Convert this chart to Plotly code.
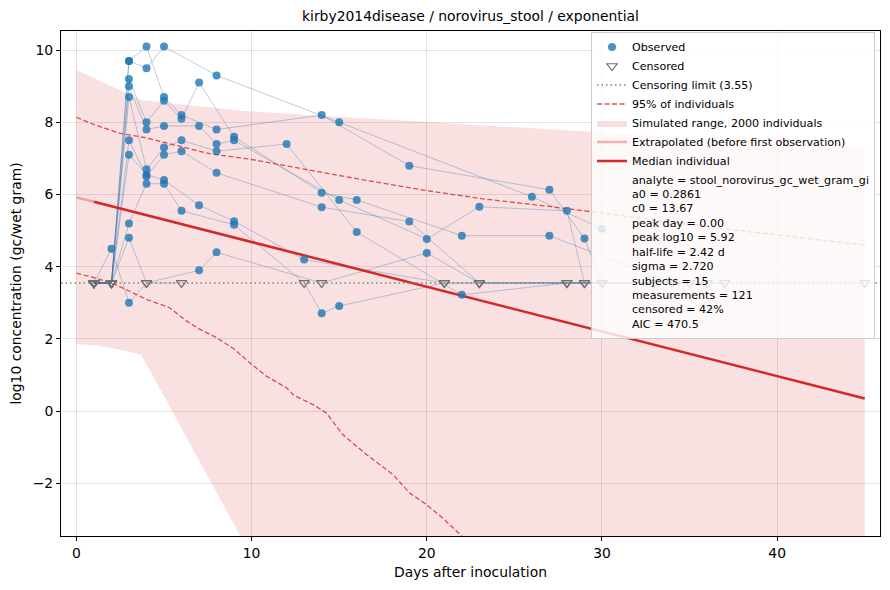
import plotly.graph_objects as go

# ---------------- data ----------------
censor_limit = 3.55
C = censor_limit  # value used for censored measurements

# one row per subject: days, log10 values, censored flags
meas_subject = (
    [1]*12 + [2]*10 + [3]*13 + [4]*14 + [5]*12 + [6]*12 + [7]*10 + [8]*13 +
    [9]*10 + [10]*5 + [11]*2 + [12]*2 + [13]*2 + [14]*2 + [15]*2
)
meas_day = [
    1, 2, 3, 4, 5, 6, 8, 14, 19, 27, 29, 30,
    1, 2, 3, 4, 5, 8, 15, 26, 30, 33,
    1, 2, 3, 4, 5, 6, 7, 9, 14, 16, 22, 27, 34,
    1, 2, 3, 4, 5, 7, 8, 9, 15, 20, 23, 28, 29, 35,
    1, 2, 3, 4, 5, 6, 8, 12, 16, 22, 28, 36,
    1, 2, 3, 4, 5, 6, 8, 14, 19, 23, 28, 37,
    1, 2, 3, 4, 5, 7, 9, 13, 21, 29,
    1, 2, 3, 4, 5, 6, 9, 13, 14, 15, 21, 23, 45,
    1, 2, 3, 4, 7, 8, 14, 20, 23, 30,
    1, 2, 3, 4, 6,
    1, 2,
    1, 2,
    1, 2,
    1, 2,
    1, 2,
]
meas_log10 = [
    C, C, 9.70, 10.10, 8.70, 8.20, 7.80, 8.20, 6.80, 6.13, 4.78, C,
    C, C, 9.70, 9.50, 10.10, 9.30, 8.00, 5.94, 5.05, C,
    C, C, 9.20, 8.00, 8.60, 8.10, 9.10, 7.60, 6.05, 5.85, 4.86, 4.86, C,
    C, C, 9.00, 7.80, 7.90, 7.90, 7.40, 7.50, 5.85, 4.77, 5.66, 5.55, C, C,
    C, C, 8.70, 6.70, 7.30, 7.50, 7.20, 7.40, 4.96, 3.22, C, C,
    C, C, 7.50, 6.50, 7.10, 7.20, 6.60, 5.65, 5.25, C, C, C,
    C, C, 7.10, 6.55, 6.40, 5.70, 5.26, 4.20, C, C,
    C, C, 5.20, 6.30, 6.30, 5.55, 5.16, C, 2.71, 2.91, C, C, C,
    C, C, 4.80, C, 3.90, 4.40, C, 4.38, C, C,
    C, 4.50, 3.00, C, C,
    C, C,
    C, C,
    C, C,
    C, C,
    C, C,
]
meas_censored = [
    1, 1, 0, 0, 0, 0, 0, 0, 0, 0, 0, 1,
    1, 1, 0, 0, 0, 0, 0, 0, 0, 1,
    1, 1, 0, 0, 0, 0, 0, 0, 0, 0, 0, 0, 1,
    1, 1, 0, 0, 0, 0, 0, 0, 0, 0, 0, 0, 1, 1,
    1, 1, 0, 0, 0, 0, 0, 0, 0, 0, 1, 1,
    1, 1, 0, 0, 0, 0, 0, 0, 0, 1, 1, 1,
    1, 1, 0, 0, 0, 0, 0, 0, 1, 1,
    1, 1, 0, 0, 0, 0, 0, 1, 0, 0, 1, 1, 1,
    1, 1, 0, 1, 0, 0, 1, 0, 1, 1,
    1, 0, 0, 1, 1,
    1, 1,
    1, 1,
    1, 1,
    1, 1,
    1, 1,
]

# simulated range (2000 individuals): envelope
band_days = [0, 1.1, 2.5, 3.7, 9.4, 10.0, 12.75, 20.0, 29.9, 37.0, 45.0]
band_upper = [9.45, 9.20, 8.90, 8.62, 8.32, 8.30, 8.22, 8.01, 7.72, 7.52, 7.30]
band_lower = [1.85, 1.82, 1.70, 1.56, -3.50, -4.10, -6.80, -14.0, -24.0, -31.0, -39.0]

# 95% of individuals
q_hi_days = [0, 1.1, 2.46, 3.98, 5.7, 7.6, 9.89, 13.3, 16.55, 19.98, 23.2, 27.0, 29.9, 37.0, 45.0]
q_hi_vals = [8.14, 7.92, 7.70, 7.57, 7.36, 7.13, 6.98, 6.67, 6.39, 6.11, 5.88, 5.67, 5.49, 5.05, 4.60]
q_lo_days = [0, 1.0, 2.17, 3.98, 5.3, 6.27, 7.03, 7.98, 9.0, 9.89, 10.84, 11.98, 12.4, 13.5,
             14.27, 15.2, 16.55, 18.07, 19.03, 19.98, 20.9, 22.08, 24.0]
q_lo_vals = [3.82, 3.70, 3.52, 3.10, 2.87, 2.50, 2.27, 2.04, 1.72, 1.34, 0.97, 0.65, 0.44, 0.18,
             -0.05, -0.65, -1.20, -1.76, -2.27, -2.59, -2.96, -3.50, -4.30]

# median individual
extrap_days = [0, 1]
extrap_vals = [5.92, 5.80]
median_days = [1, 45]
median_vals = [5.80, 0.35]

stats_lines = [
    "analyte = stool_norovirus_gc_wet_gram_gi",
    "a0 = 0.2861",
    "c0 = 13.67",
    "peak day = 0.00",
    "peak log10 = 5.92",
    "half-life = 2.42 d",
    "sigma = 2.720",
    "subjects = 15",
    "measurements = 121",
    "censored = 42%",
    "AIC = 470.5",
]

x_range = [-0.88, 45.87]
y_range = [-3.46, 10.53]
x_ticks = [0, 10, 20, 30, 40]
y_ticks = [-2, 0, 2, 4, 6, 8, 10]

RED = "#d62728"
FONT = "DejaVu Sans"

# the page body has an 8px margin; size the figure so the plot area lands where intended
W, H = 882, 582

fig = go.Figure()

# band
fig.add_trace(go.Scatter(x=band_days, y=band_lower, mode="lines", line=dict(width=0),
                         showlegend=False, hoverinfo="skip"))
fig.add_trace(go.Scatter(x=band_days, y=band_upper, mode="lines", line=dict(width=0),
                         fill="tonexty", fillcolor="rgba(214,39,40,0.14)",
                         name="Simulated range, 2000 individuals", legendrank=5))

# subject trajectories
for s in sorted(set(meas_subject)):
    xs = [d for d, ss in zip(meas_day, meas_subject) if ss == s]
    ys = [v for v, ss in zip(meas_log10, meas_subject) if ss == s]
    fig.add_trace(go.Scatter(x=xs, y=ys, mode="lines",
                             line=dict(color="rgba(40,110,170,0.33)", width=1),
                             showlegend=False, hoverinfo="skip"))

# censoring limit
fig.add_shape(type="line", xref="paper", x0=0, x1=1, yref="y", y0=censor_limit, y1=censor_limit,
              line=dict(color="#808080", width=1.5, dash="1.5px,3px"))
fig.add_trace(go.Scatter(x=[None], y=[None], mode="lines",
                         line=dict(color="#808080", width=1.5, dash="1.5px,3px"),
                         name="Censoring limit (%.2f)" % censor_limit, legendrank=3))

# quantiles
fig.add_trace(go.Scatter(x=q_hi_days, y=q_hi_vals, mode="lines",
                         line=dict(color="rgba(214,39,40,0.8)", width=1.3, dash="5px,2.5px"),
                         name="95% of individuals", legendrank=4))
fig.add_trace(go.Scatter(x=q_lo_days, y=q_lo_vals, mode="lines",
                         line=dict(color="rgba(214,39,40,0.8)", width=1.3, dash="5px,2.5px"),
                         showlegend=False))

# median
fig.add_trace(go.Scatter(x=extrap_days, y=extrap_vals, mode="lines",
                         line=dict(color="rgba(214,39,40,0.35)", width=2.5),
                         name="Extrapolated (before first observation)", legendrank=6))
fig.add_trace(go.Scatter(x=median_days, y=median_vals, mode="lines",
                         line=dict(color=RED, width=2.5),
                         name="Median individual", legendrank=7))

# points
obs_x = [d for d, c in zip(meas_day, meas_censored) if not c]
obs_y = [v for v, c in zip(meas_log10, meas_censored) if not c]
cen_x = [d for d, c in zip(meas_day, meas_censored) if c]
cen_y = [v for v, c in zip(meas_log10, meas_censored) if c]
fig.add_trace(go.Scatter(x=obs_x, y=obs_y, mode="markers",
                         marker=dict(color="rgba(31,119,180,0.8)", size=8, line=dict(width=0)),
                         name="Observed", legendrank=1))
fig.add_trace(go.Scatter(x=cen_x, y=cen_y, mode="markers",
                         marker=dict(symbol="triangle-down-open", color="#707070", size=9,
                                     line=dict(width=1.2)),
                         name="Censored", legendrank=2))

# fit statistics as text in the legend
fig.add_trace(go.Scatter(x=[None], y=[None], mode="markers",
                         marker=dict(color="rgba(0,0,0,0)", size=1),
                         name="<br>".join(stats_lines), legendrank=8))

axis_common = dict(
    showline=True, mirror=True, linecolor="black", linewidth=1,
    ticks="outside", ticklen=4, tickwidth=1, tickcolor="black",
    showgrid=True, gridcolor="rgba(0,0,0,0.11)", gridwidth=1,
    zeroline=False, automargin=False,
    tickfont=dict(family=FONT, size=13.9, color="black"),
)

fig.update_layout(
    width=W, height=H,
    margin=dict(l=53, r=10, t=23, b=54),
    paper_bgcolor="white", plot_bgcolor="white",
    font=dict(family=FONT, size=13.9, color="black"),
    title=dict(text="kirby2014disease / norovirus_stool / exponential",
               x=0.5, xref="paper", xanchor="center",
               y=1 - 8 / H, yref="container", yanchor="middle",
               font=dict(family=FONT, size=13.9, color="black")),
    xaxis=dict(range=x_range, tickvals=x_ticks,
               title=dict(text="Days after inoculation", standoff=7,
                          font=dict(family=FONT, size=13.9)),
               **axis_common),
    yaxis=dict(range=y_range, tickvals=y_ticks,
               title=dict(text="log10 concentration (gc/wet gram)", standoff=7,
                          font=dict(family=FONT, size=13.9)),
               **axis_common),
    legend=dict(x=0.9939, xanchor="right", y=0.999, yanchor="top",
                traceorder="normal",
                bgcolor="rgba(255,255,255,0.8)", bordercolor="#cccccc", borderwidth=1,
                font=dict(family=FONT, size=11.1, color="black"),
                tracegroupgap=0, itemwidth=30),
    showlegend=True,
)

fig.write_html("out.html")
